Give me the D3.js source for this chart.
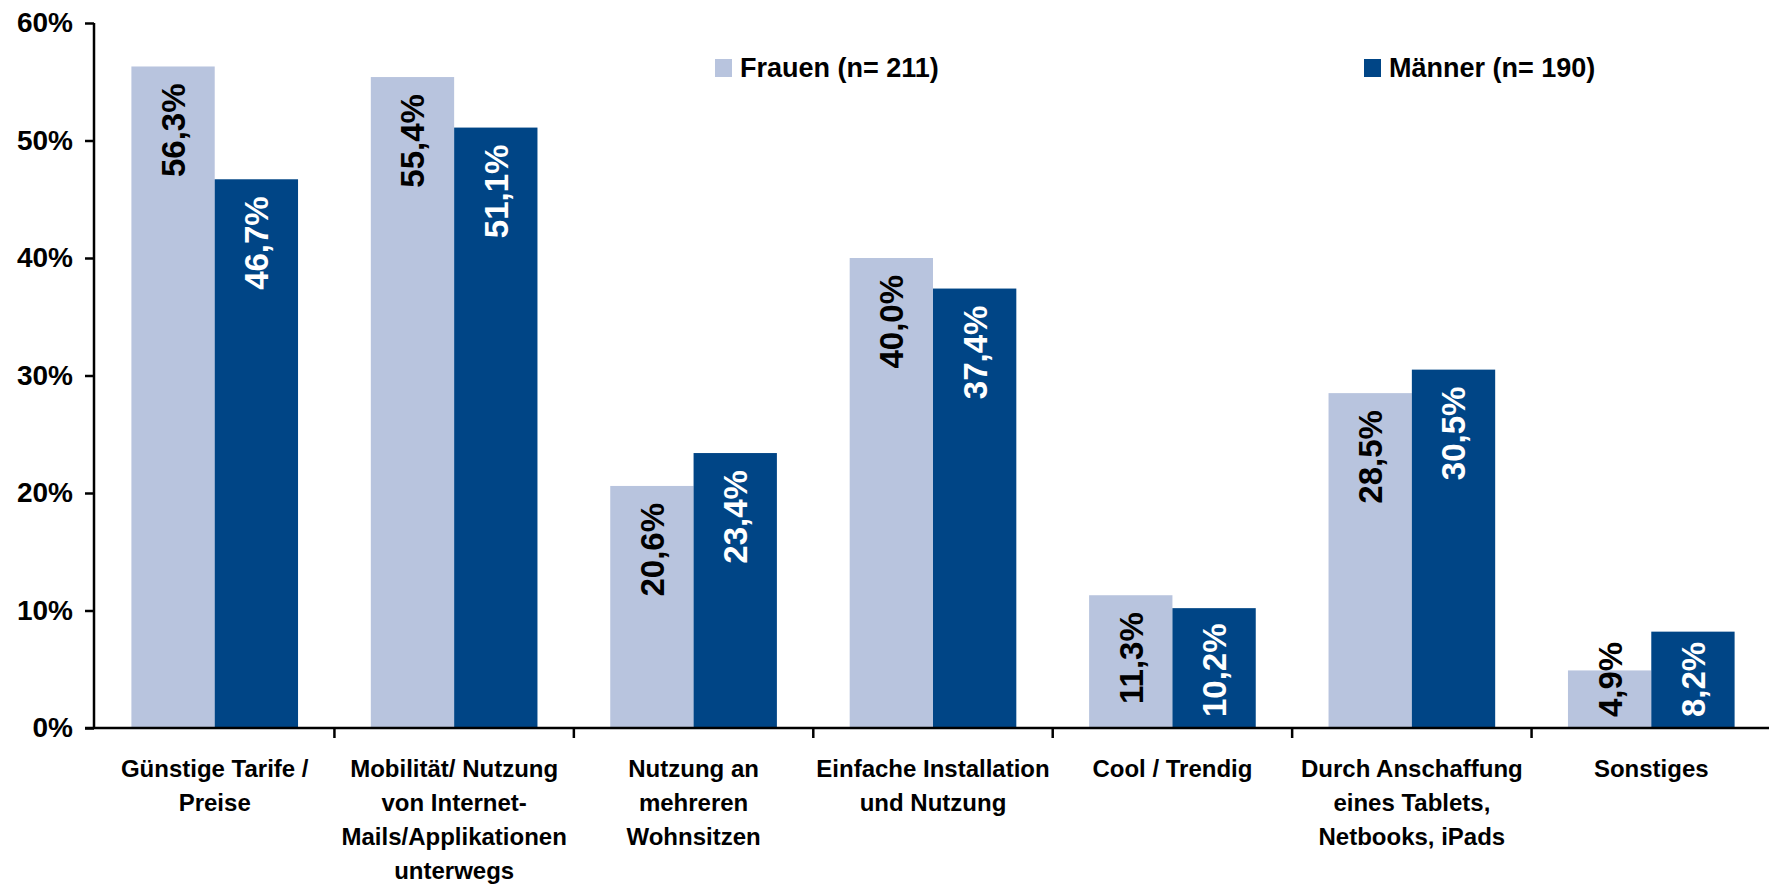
<!DOCTYPE html>
<html lang="de">
<head>
<meta charset="utf-8">
<title>Gründe</title>
<script src="https://d3js.org/d3.v7.min.js"></script>
<style>
  body { margin: 0; background: #fff; }
  svg text { font-family: "Liberation Sans", Arial, sans-serif; font-weight: bold; }
</style>
</head>
<body>
<svg id="chart" width="1769" height="885"></svg>
<script>
// data
var categories = ["Günstige Tarife / Preise", "Mobilität/ Nutzung von Internet-Mails/Applikationen unterwegs",
  "Nutzung an mehreren Wohnsitzen", "Einfache Installation und Nutzung", "Cool / Trendig",
  "Durch Anschaffung eines Tablets, Netbooks, iPads", "Sonstiges"];
var categoryLines = [
  ["Günstige Tarife /", "Preise"],
  ["Mobilität/ Nutzung", "von Internet-", "Mails/Applikationen", "unterwegs"],
  ["Nutzung an", "mehreren", "Wohnsitzen"],
  ["Einfache Installation", "und Nutzung"],
  ["Cool / Trendig"],
  ["Durch Anschaffung", "eines Tablets,", "Netbooks, iPads"],
  ["Sonstiges"]
];
var seriesNames = ["Frauen (n= 211)", "Männer (n= 190)"];
var frauen = [56.3, 55.4, 20.6, 40.0, 11.3, 28.5, 4.9];
var maenner = [46.7, 51.1, 23.4, 37.4, 10.2, 30.5, 8.2];
var yTicks = [0, 10, 20, 30, 40, 50, 60];

var colors = ["#b8c4de", "#004586"];
var labelColors = ["#000", "#fff"];

var svg = d3.select("#chart");

var x = d3.scaleBand().domain(categories).range([95, 1771]);
var xs = d3.scaleBand().domain(seriesNames)
  .range([x.bandwidth() * 0.152, x.bandwidth() * 0.848]);
var y = d3.scaleLinear().domain([0, 60]).range([728, 23]);

var rows = [];
categories.forEach(function(c, i) {
  rows.push({cat: c, s: 0, v: frauen[i]});
  rows.push({cat: c, s: 1, v: maenner[i]});
});

// bars
svg.append("g").selectAll("rect").data(rows).join("rect")
  .attr("x", function(d) { return x(d.cat) + xs(seriesNames[d.s]); })
  .attr("y", function(d) { return y(d.v); })
  .attr("width", xs.bandwidth())
  .attr("height", function(d) { return y(0) - y(d.v); })
  .attr("fill", function(d) { return colors[d.s]; });

// value labels (rotated, inside end, clamped near the base)
var fmt = function(v) { return v.toFixed(1).replace(".", ",") + "%"; };
svg.append("g").selectAll("text").data(rows).join("text")
  .text(function(d) { return fmt(d.v); })
  .attr("font-size", 33)
  .attr("fill", function(d) { return labelColors[d.s]; })
  .attr("text-anchor", "start")
  .attr("dy", "0.36em")
  .each(function(d) {
    var len = this.getComputedTextLength();
    var cx = x(d.cat) + xs(seriesNames[d.s]) + xs.bandwidth() / 2;
    var startY = Math.min(y(d.v) + 17 + len, 717);
    d3.select(this).attr("transform", "translate(" + cx + "," + startY + ") rotate(-90)");
  });

// y axis
var yAxis = svg.append("g")
  .attr("transform", "translate(94,0)")
  .call(d3.axisLeft(y).tickValues(yTicks).tickSize(9).tickPadding(12)
    .tickFormat(function(d) { return d + "%"; }));
yAxis.select(".domain").attr("stroke", "#000").attr("stroke-width", 2.5)
  .attr("d", "M0," + y(60) + "V" + y(0));
yAxis.selectAll(".tick line").attr("stroke", "#000").attr("stroke-width", 2.5);
yAxis.selectAll(".tick text").attr("font-size", 28).attr("fill", "#000")
  .style("font-family", "'Liberation Sans', Arial, sans-serif").style("font-weight", "bold");

// x axis line and ticks at category boundaries
var xAxis = svg.append("g");
xAxis.append("line")
  .attr("x1", 85).attr("x2", 1769).attr("y1", y(0)).attr("y2", y(0))
  .attr("stroke", "#000").attr("stroke-width", 2.5);
xAxis.selectAll("line.t").data(categories.slice(1)).join("line")
  .attr("class", "t")
  .attr("x1", function(c) { return x(c); }).attr("x2", function(c) { return x(c); })
  .attr("y1", y(0)).attr("y2", y(0) + 10)
  .attr("stroke", "#000").attr("stroke-width", 2.5);

// category labels
var catText = svg.append("g").selectAll("text").data(categories).join("text")
  .attr("x", function(c) { return x(c) + x.bandwidth() / 2; })
  .attr("y", 777)
  .attr("font-size", 24)
  .attr("text-anchor", "middle")
  .attr("fill", "#000");
catText.each(function(c, i) {
  var t = d3.select(this);
  categoryLines[i].forEach(function(line, j) {
    t.append("tspan").attr("x", x(c) + x.bandwidth() / 2).attr("dy", j === 0 ? 0 : 34).text(line);
  });
});

// legend
var legendX = [715, 1364];
var legend = svg.append("g").selectAll("g").data(seriesNames).join("g")
  .attr("transform", function(d, i) { return "translate(" + legendX[i] + ",59)"; });
legend.append("rect").attr("width", 17).attr("height", 18)
  .attr("fill", function(d, i) { return colors[i]; });
legend.append("text").attr("x", 25).attr("y", 18).attr("font-size", 27)
  .attr("fill", "#000").text(function(d) { return d; });
</script>
</body>
</html>
